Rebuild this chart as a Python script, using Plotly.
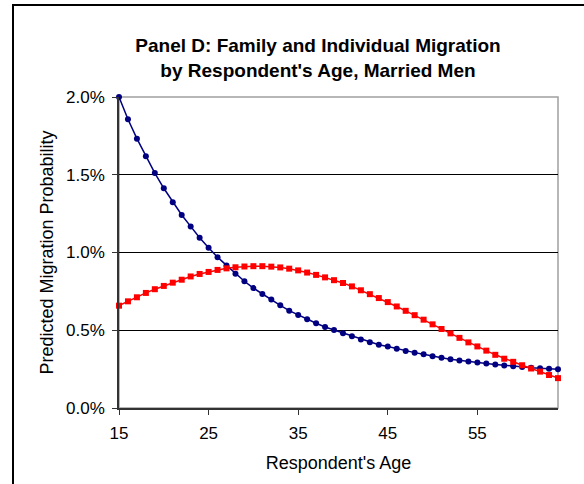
import plotly.graph_objects as go

# Respondent's age (one point per year)
ages = list(range(15, 65))

# Predicted migration probability (%)
family_migration = [
    2.000, 1.857, 1.732, 1.619, 1.511, 1.413, 1.323, 1.241, 1.168, 1.095,
    1.030, 0.970, 0.917, 0.864, 0.815, 0.771, 0.733, 0.697, 0.660, 0.626,
    0.598, 0.570, 0.545, 0.521, 0.502, 0.481, 0.462, 0.441, 0.423, 0.407,
    0.395, 0.381, 0.367, 0.356, 0.345, 0.333, 0.323, 0.314, 0.306, 0.299,
    0.292, 0.286, 0.280, 0.274, 0.268, 0.263, 0.259, 0.256, 0.252, 0.250,
]
individual_migration = [
    0.658, 0.686, 0.712, 0.740, 0.764, 0.785, 0.806, 0.825, 0.846, 0.862,
    0.875, 0.888, 0.898, 0.905, 0.910, 0.912, 0.912, 0.909, 0.904, 0.896,
    0.885, 0.871, 0.856, 0.840, 0.822, 0.804, 0.782, 0.757, 0.732, 0.707,
    0.681, 0.653, 0.625, 0.597, 0.568, 0.538, 0.508, 0.480, 0.451, 0.422,
    0.396, 0.369, 0.342, 0.317, 0.297, 0.275, 0.254, 0.234, 0.212, 0.192,
]

x_ticks = [15, 25, 35, 45, 55]
y_ticks = [0.0, 0.5, 1.0, 1.5, 2.0]
y_tick_labels = ["0.0%", "0.5%", "1.0%", "1.5%", "2.0%"]

W, H = 584, 484
L, R, T, B = 119, 26, 97, 76
pw, ph = W - L - R, H - T - B

fig = go.Figure()
fig.add_trace(
    go.Scatter(
        x=ages,
        y=family_migration,
        mode="lines+markers",
        name="Family",
        line=dict(color="#000080", width=1.5),
        marker=dict(symbol="circle", size=6, color="#000080"),
        cliponaxis=False,
    )
)
fig.add_trace(
    go.Scatter(
        x=ages,
        y=individual_migration,
        mode="lines+markers",
        name="Individual",
        line=dict(color="#ff0000", width=1.5),
        marker=dict(symbol="square", size=6, color="#ff0000"),
        cliponaxis=False,
    )
)

# grey frame around the plot area
fig.add_shape(
    type="rect", xref="paper", yref="paper", x0=0, y0=0, x1=1, y1=1,
    line=dict(color="#a0a0a0", width=1.5), layer="below",
)
# outer chart border (runs off the right and bottom of the picture)
fig.add_shape(
    type="rect", xref="paper", yref="paper",
    x0=(13 - L) / pw, x1=(W + 10 - L) / pw,
    y0=-(B + 10) / ph, y1=1 + (T - 5) / ph,
    line=dict(color="black", width=2),
)

font = "Arial, Liberation Sans, sans-serif"
fig.update_layout(
    width=W,
    height=H,
    margin=dict(l=L, r=R, t=T, b=B),
    paper_bgcolor="white",
    plot_bgcolor="white",
    showlegend=False,
    font=dict(family=font, size=17, color="black"),
    title=dict(
        text="<b>Panel D: Family and Individual Migration<br>by Respondent's Age, Married Men</b>",
        x=318 / W,
        xanchor="center",
        y=1 - 52 / H,
        yanchor="top",
        font=dict(family=font, size=19, color="black"),
    ),
    xaxis=dict(
        range=[15, 64],
        tickvals=x_ticks,
        ticks="outside",
        ticklen=5,
        tickcolor="#333333",
        ticklabelstandoff=4,
        showgrid=False,
        zeroline=False,
        showline=True,
        linecolor="#333333",
        linewidth=1.5,
        title=dict(text="Respondent's Age", standoff=14, font=dict(size=18)),
    ),
    yaxis=dict(
        range=[0, 2.0],
        tickvals=y_ticks,
        ticktext=y_tick_labels,
        ticks="outside",
        ticklen=5,
        tickcolor="#333333",
        ticklabelstandoff=4,
        showgrid=True,
        gridcolor="black",
        gridwidth=1,
        zeroline=False,
        showline=True,
        linecolor="#333333",
        linewidth=1.5,
        title=dict(text="Predicted Migration Probability", standoff=8, font=dict(size=18)),
    ),
)

fig.write_html(
    "out.html",
    config={"displayModeBar": False},
    post_script="document.body.style.margin='0';",
)
